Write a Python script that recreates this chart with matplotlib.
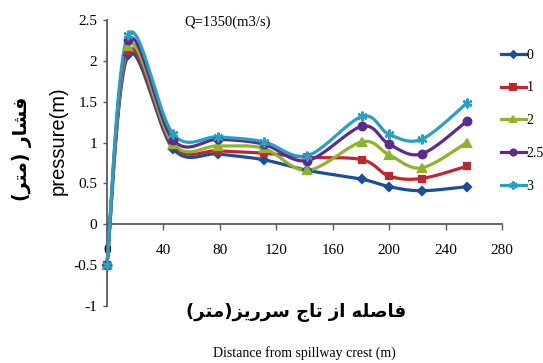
import numpy as np
import matplotlib
matplotlib.use("Agg")
import matplotlib.pyplot as plt

# distance from spillway crest (m)
distance = [0, 15, 47, 79, 111, 142, 181, 200, 223, 255]

# pressure (m) for each series
p_0 = [-0.50, 2.07, 0.92, 0.86, 0.79, 0.66, 0.55, 0.46, 0.41, 0.46]
p_1 = [-0.50, 2.12, 0.96, 0.90, 0.87, 0.82, 0.79, 0.59, 0.56, 0.71]
p_2 = [-0.50, 2.18, 0.98, 0.96, 0.93, 0.66, 1.01, 0.85, 0.69, 1.00]
p_25 = [-0.50, 2.25, 1.03, 1.04, 0.98, 0.78, 1.20, 0.98, 0.86, 1.26]
p_3 = [-0.50, 2.32, 1.10, 1.07, 1.01, 0.84, 1.32, 1.10, 1.04, 1.48]

series_labels = ["0", "1", "2", "2.5", "3"]
series_values = [p_0, p_1, p_2, p_25, p_3]

COLORS = ["#1B4F9C", "#C0262D", "#8DB42A", "#5E2A8C", "#26A1C6"]
MARKERS = ["D", "s", "^", "o", (6, 2, 0)]
MSIZES = [4.5, 5, 5.5, 5.5, 7]

# Persian labels, written in visual order with Arabic presentation forms
# (matplotlib has no bidi / shaping)
YLAB_FA = "(\uFEAE\uFE98\uFEE3) \uFEAD\uFE8E\uFEB8\uFED3"                 # فشار (متر)
XLAB_FA = ("(\uFEAE\uFE98\uFEE3)\uFEB0\uFEF3\uFEAD\uFEAE\uFEB3 "
           "\uFE9D\uFE8E\uFE97 \uFEAF\uFE8D \uFEEA\uFEE0\uFEBB\uFE8E\uFED3")  # فاصله از تاج سرریز(متر)


def smooth(xs, ys, n=24):
    """Excel-like smoothed line (Catmull-Rom as cubic Bezier)."""
    pts = np.column_stack([xs, ys]).astype(float)
    out = []
    for i in range(len(pts) - 1):
        p0 = pts[i - 1] if i > 0 else pts[i]
        p1, p2 = pts[i], pts[i + 1]
        p3 = pts[i + 2] if i + 2 < len(pts) else pts[i + 1]
        c1 = p1 + (p2 - p0) / 6
        c2 = p2 - (p3 - p1) / 6
        t = np.linspace(0, 1, n)[:, None]
        seg = (1 - t) ** 3 * p1 + 3 * (1 - t) ** 2 * t * c1 + 3 * (1 - t) * t ** 2 * c2 + t ** 3 * p2
        out.append(seg if i == 0 else seg[1:])
    return np.vstack(out)


fig = plt.figure(figsize=(5.43, 3.63), dpi=100)
ax = fig.add_axes([0.197, 0.157, 0.7274, 0.788])

handles = []
for lab, vals, c, m, ms in zip(series_labels, series_values, COLORS, MARKERS, MSIZES):
    curve = smooth(distance, vals)
    ax.plot(curve[:, 0], curve[:, 1], color=c, lw=2.3, solid_capstyle="round", clip_on=False, zorder=3)
    ax.plot(distance, vals, linestyle="none", marker=m, color=c, markersize=ms,
            markeredgewidth=1.6, clip_on=False, zorder=4)
    handles.append(ax.plot([], [], color=c, lw=2.3, marker=m, markersize=ms - 1, markeredgewidth=1.4)[0])

ax.set_xlim(0, 280)
ax.set_ylim(-1, 2.5)
ax.set_xticks(range(0, 281, 40))
ax.set_yticks(np.arange(-1, 2.51, 0.5))
ax.set_yticklabels(["-1", "-0.5", "0", "0.5", "1", "1.5", "2", "2.5"])

for s in ["top", "right"]:
    ax.spines[s].set_visible(False)
ax.spines["bottom"].set_position(("data", 0))
for s in ["left", "bottom"]:
    ax.spines[s].set_color("#5a5a5a")
    ax.spines[s].set_linewidth(1.3)

ax.tick_params(axis="x", direction="out", length=4, width=1, color="#5a5a5a", pad=10)
ax.tick_params(axis="y", direction="out", length=3, width=1, color="#5a5a5a", pad=4)
for t in ax.get_xticklabels() + ax.get_yticklabels():
    t.set_fontfamily("Liberation Serif")
    t.set_fontsize(11)

ax.text(55, 2.47, "Q=1350(m3/s)", family="Liberation Serif", fontsize=10.5, va="center", ha="left")

ax.legend(handles, series_labels, loc="upper left", bbox_to_anchor=(0.922, 0.866),
          bbox_transform=fig.transFigure, frameon=False, handlelength=1.8,
          handletextpad=0.05, labelspacing=1.42, borderpad=0, borderaxespad=0,
          prop={"family": "Liberation Serif", "size": 10})

fig.text(0.040, 0.59, YLAB_FA, rotation=90, ha="center", va="center",
         family="DejaVu Sans", fontweight="bold", fontsize=13.5)
fig.text(0.107, 0.612, "pressure(m)", rotation=90, ha="center", va="center",
         family="Liberation Sans", fontsize=14.5)
fig.text(0.545, 0.138, XLAB_FA, ha="center", va="center",
         family="DejaVu Sans", fontweight="bold", fontsize=13)
fig.text(0.56, 0.028, "Distance from spillway crest (m)", ha="center", va="center",
         family="Liberation Serif", fontsize=10)

fig.savefig("out.png", dpi=100)
